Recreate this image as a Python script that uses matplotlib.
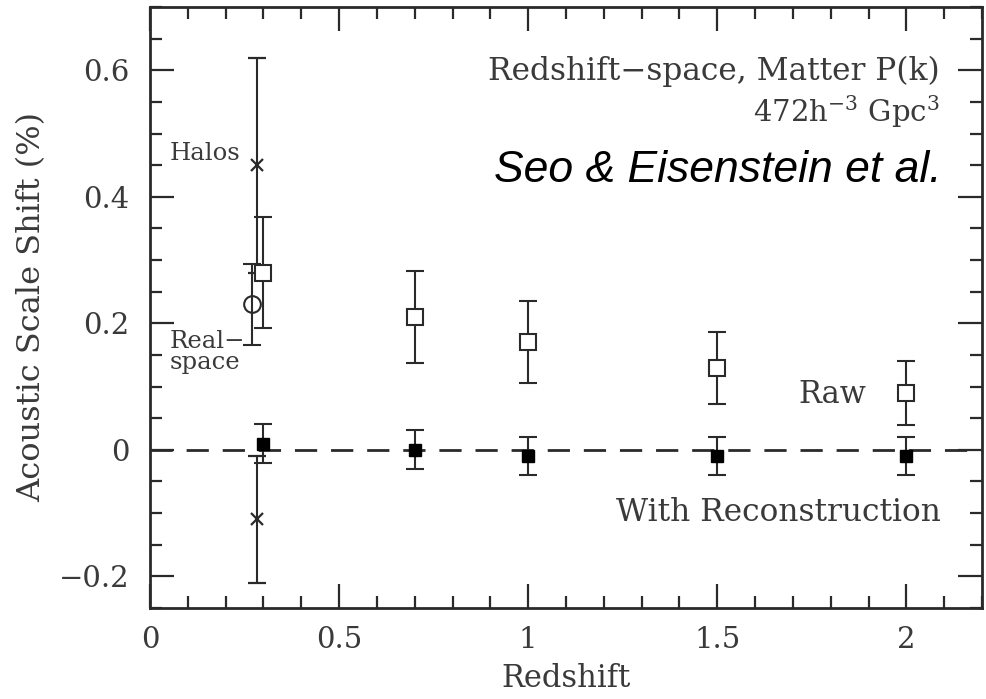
import matplotlib
matplotlib.use("Agg")
import matplotlib.pyplot as plt
from matplotlib.ticker import MultipleLocator, FuncFormatter

# Data
raw_z = [0.3, 0.7, 1.0, 1.5, 2.0]
raw_shift = [0.28, 0.21, 0.17, 0.13, 0.09]
raw_err = [0.088, 0.073, 0.065, 0.057, 0.05]

rec_z = [0.3, 0.7, 1.0, 1.5, 2.0]
rec_shift = [0.01, 0.0, -0.01, -0.01, -0.01]
rec_err = [0.031, 0.031, 0.03, 0.03, 0.03]

halo_z = [0.283, 0.283]
halo_shift = [0.45, -0.11]
halo_err = [0.17, 0.10]

real_z = [0.27]
real_shift = [0.23]
real_err = [0.064]

xticks = [0, 0.5, 1, 1.5, 2]
yticks = [-0.2, 0, 0.2, 0.4, 0.6]

serif = "DejaVu Serif"
tcol = "#3a3a3a"
lcol = "#2a2a2a"

fig = plt.figure(figsize=(9.86, 6.99), dpi=100)
ax = fig.add_axes([150/986, 1-608/699, (982-150)/986, (608-7)/699])

ax.axhline(0, color=lcol, lw=2, ls=(0, (8, 5)), zorder=1)

eb_kw = dict(ecolor=lcol, elinewidth=1.5, capsize=6.5, capthick=1.5, ls="none")
ax.errorbar(raw_z, raw_shift, yerr=raw_err, marker="s", ms=11.5, mfc="white",
            mec=lcol, mew=1.5, **eb_kw, zorder=3)
ax.errorbar(rec_z, rec_shift, yerr=rec_err, marker="s", ms=8.5, mfc="black",
            mec="black", **eb_kw, zorder=3)
ax.errorbar(halo_z, halo_shift, yerr=halo_err, marker="x", ms=9, mec=lcol,
            mew=1.6, **eb_kw, zorder=3)
ax.errorbar(real_z, real_shift, yerr=real_err, marker="o", ms=12, mfc="none",
            mec=lcol, mew=1.5, **eb_kw, zorder=2)

ax.set_xlim(0, 2.2)
ax.set_ylim(-0.25, 0.7)
ax.set_xticks(xticks)
ax.set_yticks(yticks)
ax.xaxis.set_minor_locator(MultipleLocator(0.1))
ax.yaxis.set_minor_locator(MultipleLocator(0.05))

def fmt(v, pos):
    s = ("%g" % v)
    return s.replace("-", "\u2212")
ax.xaxis.set_major_formatter(FuncFormatter(fmt))
ax.yaxis.set_major_formatter(FuncFormatter(fmt))

ax.tick_params(which="both", direction="in", top=True, right=True,
               color=lcol, width=1.6, labelsize=21, labelcolor=tcol)
ax.tick_params(which="major", length=17)
ax.tick_params(which="minor", length=8.5)
ax.tick_params(axis="y", which="major", pad=15)
ax.tick_params(axis="x", which="major", pad=13)
for lab in ax.get_xticklabels() + ax.get_yticklabels():
    lab.set_family(serif)
for s in ax.spines.values():
    s.set_linewidth(2)
    s.set_color(lcol)

ax.set_xlabel("Redshift", family=serif, fontsize=22, color=tcol, va="top")
ax.xaxis.set_label_coords(0.5, -0.092)
ax.set_ylabel("Acoustic Scale Shift (%)", family=serif, fontsize=23, color=tcol, va="center")
ax.yaxis.set_label_coords(-0.142, 0.5)

ax.text(2.087, 0.598, "Redshift\u2212space, Matter P(k)", family=serif, fontsize=22.5,
        color=tcol, ha="right", va="center")
ax.text(2.087, 0.534, "472h$^{\\mathregular{-3}}$ Gpc$^{\\mathregular{3}}$", family=serif, fontsize=21,
        color=tcol, ha="right", va="center")
ax.text(2.092, 0.441, "Seo & Eisenstein et al.", family="Liberation Sans", style="italic",
        fontsize=32, color="black", ha="right", va="center")
ax.text(0.053, 0.469, "Halos", family=serif, fontsize=17.5, color=tcol, ha="left", va="center")
ax.text(0.053, 0.155, "Real\u2212\nspace", family=serif, fontsize=17.5, color=tcol,
        ha="left", va="center", linespacing=0.92)
ax.text(1.894, 0.087, "Raw", family=serif, fontsize=22, color=tcol, ha="right", va="center")
ax.text(2.092, -0.099, "With Reconstruction", family=serif, fontsize=22.5, color=tcol,
        ha="right", va="center")

fig.savefig("out.png", dpi=100)
